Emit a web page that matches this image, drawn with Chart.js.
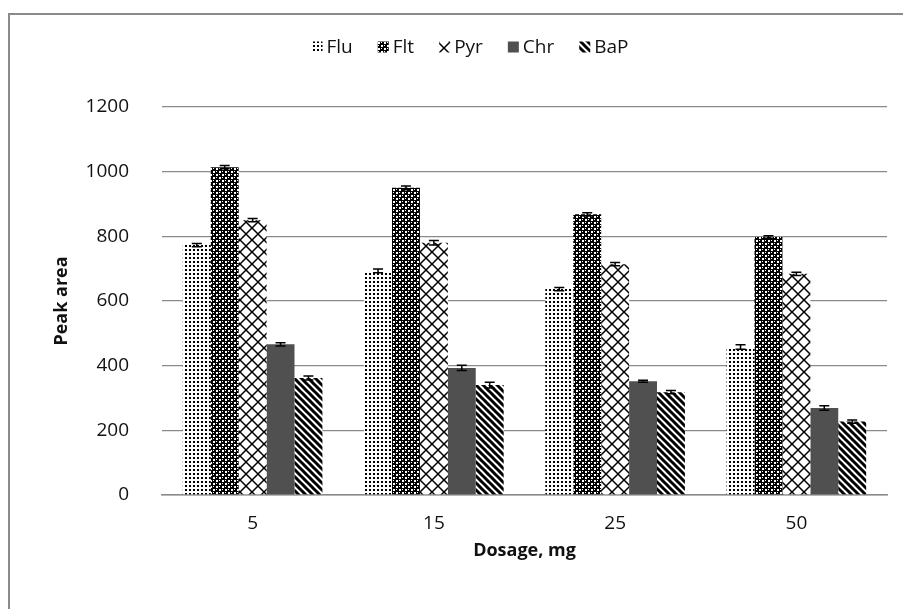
<!DOCTYPE html>
<html>
<head>
<meta charset="utf-8">
<script src="https://cdn.jsdelivr.net/npm/chart.js@4.4.0/dist/chart.umd.min.js"></script>
<style>
  html, body { margin: 0; padding: 0; background: #fff; }
  #wrap { width: 903px; height: 609px; }
</style>
</head>
<body>
<div id="wrap"><canvas id="myChart" width="903" height="609"></canvas></div>
<script>
// DATA
var dosages = ['5', '15', '25', '50'];
var seriesNames = ['Flu', 'Flt', 'Pyr', 'Chr', 'BaP'];
var fluValues = [773, 693, 637, 458];
var fltValues = [1014, 950, 868, 798];
var pyrValues = [850, 780, 714, 684];
var chrValues = [466, 393, 352, 269];
var bapValues = [362, 340, 318, 227];
var fluErr = [5, 6, 5, 7];
var fltErr = [5, 6, 5, 4];
var pyrErr = [5, 7, 5, 5];
var chrErr = [5, 8, 3, 7];
var bapErr = [6, 9, 5, 5];
var yTicks = [0, 200, 400, 600, 800, 1000, 1200];

// PATTERNS
function tile(size, draw) {
  var c = document.createElement('canvas');
  c.width = size; c.height = size;
  var t = c.getContext('2d');
  t.fillStyle = '#fff';
  t.fillRect(0, 0, size, size);
  draw(t, size);
  return c;
}

var ctx = document.getElementById('myChart').getContext('2d');

var fluPat = ctx.createPattern(tile(4, function(t) {
  t.fillStyle = '#000';
  t.fillRect(1, 1, 2, 2);
}), 'repeat');

var fltPat = ctx.createPattern(tile(6, function(t) {
  t.fillStyle = '#000';
  t.fillRect(0, 0, 6, 6);
  t.fillStyle = '#fff';
  t.fillRect(0, 0, 2, 2);
  t.fillRect(3, 3, 2, 2);
  t.fillRect(0, 3, 1, 1);
  t.fillRect(3, 0, 1, 1);
}), 'repeat');

var pyrPat = ctx.createPattern(tile(12, function(t, s) {
  t.strokeStyle = '#000';
  t.lineWidth = 1.5;
  t.beginPath();
  t.moveTo(-1, -1); t.lineTo(s + 1, s + 1);
  t.moveTo(-1, s + 1); t.lineTo(s + 1, -1);
  t.stroke();
}), 'repeat');

var bapPat = ctx.createPattern(tile(7, function(t, s) {
  t.strokeStyle = '#000';
  t.lineWidth = 3;
  t.beginPath();
  [-s, 0, s].forEach(function(x0) {
    t.moveTo(x0 - 1, -1); t.lineTo(x0 + s + 1, s + 1);
  });
  t.stroke();
}), 'repeat');

var fills = [fluPat, fltPat, pyrPat, 'rgb(80, 80, 80)', bapPat];
var values = [fluValues, fltValues, pyrValues, chrValues, bapValues];
var errors = [fluErr, fltErr, pyrErr, chrErr, bapErr];

var FONT = '"Open Sans", sans-serif';
var TEXT = '#111';

// PLUGINS
var framePlugin = {
  id: 'frame',
  beforeDraw: function(chart) {
    var c = chart.ctx;
    c.save();
    c.fillStyle = '#fff';
    c.fillRect(0, 0, chart.width, chart.height);
    c.strokeStyle = '#8a8a8a';
    c.lineWidth = 2;
    c.strokeRect(9, 14, 1000, 1000);
    c.restore();
  }
};

var errorBars = {
  id: 'errorBars',
  afterDatasetsDraw: function(chart) {
    var c = chart.ctx;
    var y = chart.scales.y;
    c.save();
    c.strokeStyle = '#000';
    c.lineWidth = 1.5;
    chart.data.datasets.forEach(function(ds, i) {
      var meta = chart.getDatasetMeta(i);
      meta.data.forEach(function(bar, j) {
        var v = ds.data[j], e = ds.errs[j];
        var top = y.getPixelForValue(v + e);
        var bot = y.getPixelForValue(v - e);
        c.beginPath();
        c.moveTo(bar.x, top); c.lineTo(bar.x, bot);
        c.moveTo(bar.x - 5, top); c.lineTo(bar.x + 5, top);
        c.moveTo(bar.x - 5, bot); c.lineTo(bar.x + 5, bot);
        c.stroke();
      });
    });
    c.restore();
  }
};

var legendPlugin = {
  id: 'myLegend',
  afterDraw: function(chart) {
    var c = chart.ctx;
    c.save();
    c.font = '19px ' + FONT;
    c.textBaseline = 'middle';
    var box = 11, gap = 4, space = 25;
    var widths = chart.data.datasets.map(function(ds) {
      return box + gap + c.measureText(ds.label).width;
    });
    var total = widths.reduce(function(a, b) { return a + b; }, 0) + space * (widths.length - 1);
    var x = 470 - total / 2, cy = 47;
    chart.data.datasets.forEach(function(ds, i) {
      c.fillStyle = ds.backgroundColor;
      c.fillRect(x, cy - box / 2, box, box);
      c.fillStyle = TEXT;
      c.fillText(ds.label, x + box + gap, cy + 1);
      x += widths[i] + space;
    });
    c.restore();
  }
};

// CHART
var datasets = seriesNames.map(function(name, i) {
  return {
    label: name,
    data: values[i],
    errs: errors[i],
    backgroundColor: fills[i],
    borderWidth: 0,
    categoryPercentage: 0.77,
    barPercentage: 1.0
  };
});

var chart = new Chart(ctx, {
  type: 'bar',
  data: { labels: dosages, datasets: datasets },
  plugins: [framePlugin, errorBars, legendPlugin],
  options: {
    responsive: false,
    animation: false,
    events: [],
    layout: { padding: { top: 107, left: 10, right: 16, bottom: 0 } },
    plugins: { legend: { display: false }, tooltip: { enabled: false } },
    scales: {
      x: {
        grid: { display: false, drawTicks: false },
        border: { display: true, color: '#8a8a8a', width: 1.5 },
        ticks: { color: TEXT, font: { family: FONT, size: 19 }, padding: 17 },
        title: {
          display: true, text: 'Dosage, mg', color: TEXT,
          font: { family: FONT, size: 18, weight: 'bold' },
          padding: { top: 0, bottom: 47 }
        },
        afterFit: function(s) { s.height = 114; }
      },
      y: {
        min: 0, max: 1200,
        afterBuildTicks: function(s) { s.ticks = yTicks.map(function(v) { return { value: v }; }); },
        grid: { color: '#8a8a8a', lineWidth: 1.3, drawTicks: false },
        border: { display: false },
        ticks: {
          color: TEXT, font: { family: FONT, size: 19 }, padding: 33,
          callback: function(v) { return String(v); }
        },
        title: {
          display: true, text: 'Peak area', color: TEXT,
          font: { family: FONT, size: 18, weight: 'bold' },
          padding: { top: 41, bottom: 0 }
        },
        afterFit: function(s) { s.width = 152; }
      }
    }
  }
});
</script>
</body>
</html>
